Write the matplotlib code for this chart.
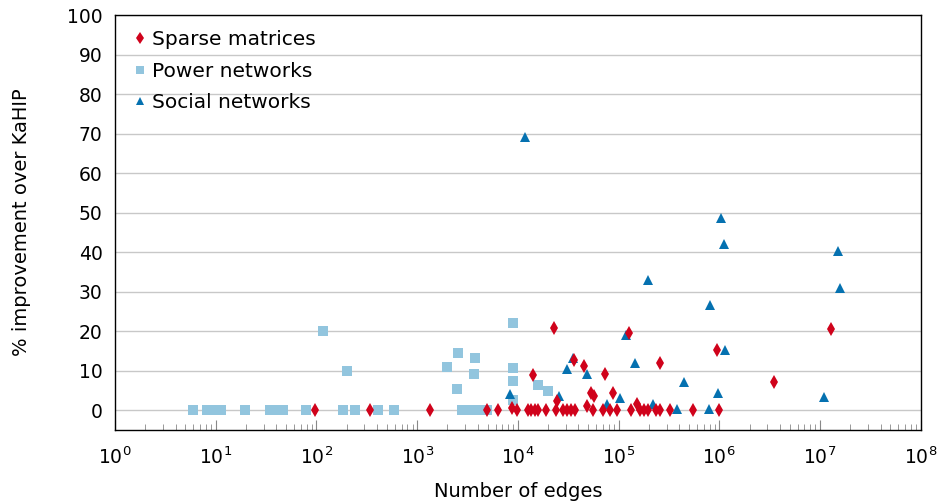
import matplotlib
matplotlib.use("Agg")
import matplotlib.pyplot as plt
from matplotlib.ticker import LogLocator, NullFormatter

plt.rcParams['font.family'] = ['DejaVu Sans']
plt.rcParams['mathtext.fontset'] = 'dejavusans'

# values (edges, % improvement)
sparse_edges = [97, 340, 1340, 4920, 6330, 8710, 9770, 12560, 13450, 14750,
                15790, 18950, 23840, 27980, 30650, 33590, 36820, 48420, 55500,
                69800, 81900, 96100, 132400, 162600, 178300, 195200, 234300,
                256700, 322700, 545800, 988000,
                14090, 22760, 24390, 35970, 45180, 53070, 56770, 73070, 87720,
                126400, 151800, 256700, 943600, 3475000, 12790000]
sparse_impr = [0, 0, 0, 0, 0, 0.7, 0, 0, 0, 0,
               0, 0, 0, 0, 0, 0, 0, 1.0, 0,
               0, 0, 0, 0, 0, 0, 0, 0,
               0, 0, 0, 0,
               8.9, 20.8, 2.3, 12.7, 11.2, 4.3, 3.6, 9.1, 4.3,
               19.5, 1.5, 11.9, 15.2, 7.1, 20.5]

power_edges = [5.9, 8.2, 9, 10, 11.3, 19.5, 34.5, 38, 41.5, 46.5, 79, 183,
               241, 408, 588, 2780, 3120, 3490, 3920, 4390, 4920,
               116, 201, 1973, 2540, 2480, 3740, 3660, 8920, 8920, 8920, 8920,
               15800, 19850]
power_impr = [0, 0, 0, 0, 0, 0, 0, 0, 0, 0, 0, 0,
              0, 0, 0, 0, 0, 0, 0, 0, 0,
              20, 10, 11, 14.4, 5.3, 13.2, 9.1, 22, 10.6, 7.3, 2.5,
              6.3, 4.8]

social_edges = [8330, 11720, 25530, 30650, 35160, 48420, 76440, 102800, 118000,
                144900, 195200, 218800, 378400, 444400, 786900, 805200, 966000,
                1035000, 1109000, 1135000, 10890000, 15000000, 15710000]
social_impr = [4.0, 69.1, 3.6, 10.4, 13.2, 9.1, 1.5, 3.0, 19.0,
               11.9, 32.9, 1.6, 0.3, 7.1, 0.3, 26.7, 4.3,
               48.6, 42.0, 15.2, 3.3, 40.3, 30.9]

x_ticks = [1, 1e1, 1e2, 1e3, 1e4, 1e5, 1e6, 1e7, 1e8]
x_ticklabels = ['$10^{%d}$' % k for k in range(9)]

red = '#d0021b'
light = '#92c5de'
blue = '#0571b0'

fig = plt.figure(figsize=(9.39, 5.03), dpi=100)
ax = fig.add_axes([0.1225, 0.145, 0.858, 0.825])

for y in range(0, 101, 10):
    ax.axhline(y, color='#c8c8c8', lw=1.0, zorder=0)

ax.plot(power_edges, power_impr, 's', color=light, ms=7, mew=0,
        label='Power networks', zorder=2)
ax.plot(social_edges, social_impr, '^', color=blue, ms=7, mew=0,
        label='Social networks', zorder=3)
ax.plot(sparse_edges, sparse_impr, 'd', color=red, ms=7, mew=0,
        label='Sparse matrices', zorder=4)

ax.set_xscale('log')
ax.set_xlim(1, 1e8)
ax.set_ylim(-5, 100)
ax.set_yticks(range(0, 101, 10))
ax.set_xticks(x_ticks)
ax.set_xticklabels(x_ticklabels)
ax.xaxis.set_minor_locator(LogLocator(base=10, subs=range(2, 10), numticks=100))
ax.xaxis.set_minor_formatter(NullFormatter())
ax.tick_params(axis='x', which='major', direction='in', length=7, color='#888888',
               labelsize=13.5, pad=12)
ax.tick_params(axis='x', which='minor', direction='in', length=4.5, color='#888888')
ax.tick_params(axis='y', length=0, labelsize=13.5, pad=9)

for s in ax.spines.values():
    s.set_color('black')
    s.set_linewidth(1.0)

ax.set_xlabel('Number of edges', fontsize=14, labelpad=10)
ax.set_ylabel('% improvement over KaHIP', fontsize=14, labelpad=26)

h, l = ax.get_legend_handles_labels()
order = [2, 0, 1]
ax.legend([h[i] for i in order], [l[i] for i in order], loc='upper left',
          bbox_to_anchor=(0.005, 1.0), frameon=False, fontsize=14.5,
          handlelength=0.6, handletextpad=0.3, labelspacing=0.62,
          borderaxespad=0.35, markerscale=0.9)

fig.savefig('out.png', dpi=100)
